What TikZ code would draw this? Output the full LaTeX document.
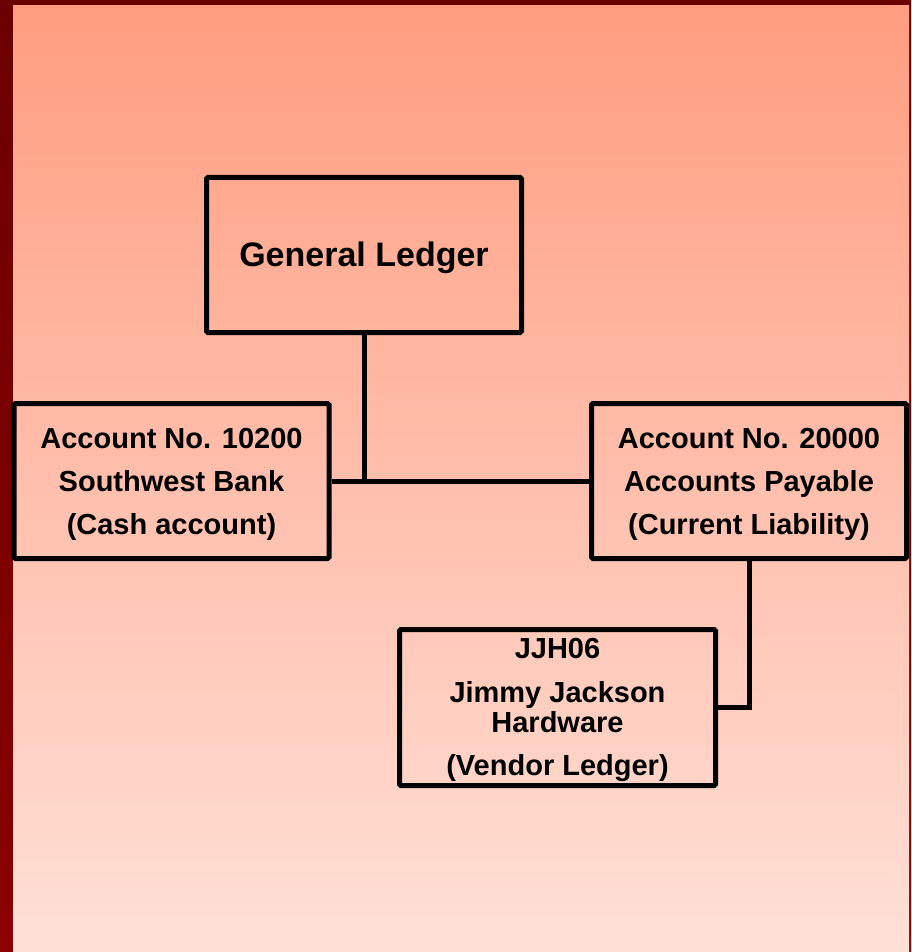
\documentclass[tikz,border=0pt]{standalone}
\usepackage{fontspec}
\setmainfont{Liberation Sans}
\definecolor{bordtop}{RGB}{107,0,0}
\definecolor{bordbot}{RGB}{139,0,0}
\definecolor{bgtop}{RGB}{255,157,128}
\definecolor{bgbot}{RGB}{255,224,215}
\begin{document}
\begin{tikzpicture}[x=1pt,y=-1pt,
  box/.style={draw=black, line width=5pt, rounded corners=1.5pt, inner sep=0pt,
    minimum width=315pt, minimum height=155pt},
  txt/.style={align=center, inner sep=0pt, font=\fontsize{29}{43}\selectfont\bfseries},
  link/.style={draw=black, line width=5pt}]
\useasboundingbox (0,0) rectangle (911,952);
\shade[top color=bordtop, bottom color=bordbot] (0,0) rectangle (911,952);
\shade[top color=bgtop, bottom color=bgbot] (13,6) rectangle (909,952);

\node[box] (gl) at (364,255) {};
\node[box] (cash) at (171.5,481) {};
\node[box] (ap) at (749,481) {};
\node[box, minimum width=316pt, minimum height=156pt] (vend) at (557.5,707.5) {};

\node[txt, font=\fontsize{34}{40}\selectfont\bfseries] (gltxt) at ([yshift=-3pt]gl.center) {General Ledger};
\node[txt] (cashtxt) at ([yshift=-3pt]cash.center) {Account No. 10200\\Southwest Bank\\(Cash account)};
\node[txt] (aptxt) at ([yshift=-3pt]ap.center) {Account No. 20000\\Accounts Payable\\(Current Liability)};
\node[txt] (vendtxt) at ([yshift=-2pt]vend.center)
  {JJH06\\[1pt]Jimmy Jackson\\[-13pt]Hardware\\(Vendor Ledger)};

\draw[link] (gl.south) -- (gl.south |- cash.east);
\draw[link] (cash.east) -- (ap.west);
\draw[link] (ap.south) |- (vend.east);
\end{tikzpicture}
\end{document}
